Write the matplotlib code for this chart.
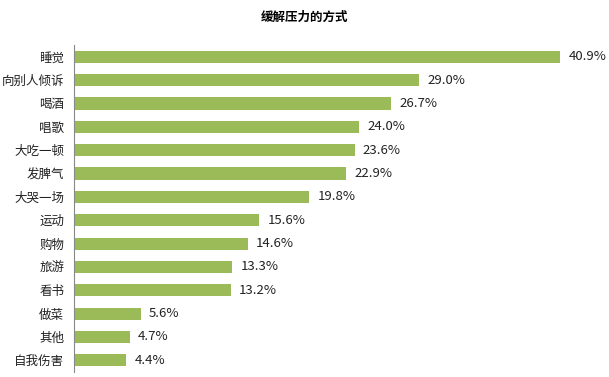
import matplotlib
matplotlib.use("Agg")
import matplotlib.pyplot as plt

plt.rcParams['font.family'] = ['Noto Sans CJK SC', 'DejaVu Sans']

categories = ["睡觉", "向别人倾诉", "喝酒", "唱歌", "大吃一顿", "发脾气", "大哭一场",
              "运动", "购物", "旅游", "看书", "做菜", "其他", "自我伤害"]
values = [40.9, 29.0, 26.7, 24.0, 23.6, 22.9, 19.8, 15.6, 14.6, 13.3, 13.2, 5.6, 4.7, 4.4]
title = "缓解压力的方式"

fig = plt.figure(figsize=(6.09, 3.77), dpi=100)
ax = fig.add_axes([0.1215, 0.0133, 0.854, 0.867])

pos = list(range(len(categories)))
ax.barh(pos, values, height=0.52, color="#9BBB59")
ax.set_ylim(len(categories) - 0.5, -0.5)
ax.set_xlim(0, 43.75)

for p, v in zip(pos, values):
    ax.text(v + 0.7, p, f"{v:.1f}%", va="center", ha="left", fontsize=9.5,
            color="#222222", clip_on=False)

ax.set_yticks(pos)
ax.set_yticklabels(categories, fontsize=9, color="#222222")
ax.tick_params(axis="y", length=0, pad=7)
ax.set_xticks([])
for s in ["top", "right", "bottom"]:
    ax.spines[s].set_visible(False)
ax.spines["left"].set_color("#888888")
ax.spines["left"].set_linewidth(0.8)

fig.text(0.5, 0.953, title, ha="center", va="center", fontsize=9, fontweight="bold")

fig.savefig("out.png", dpi=100)
